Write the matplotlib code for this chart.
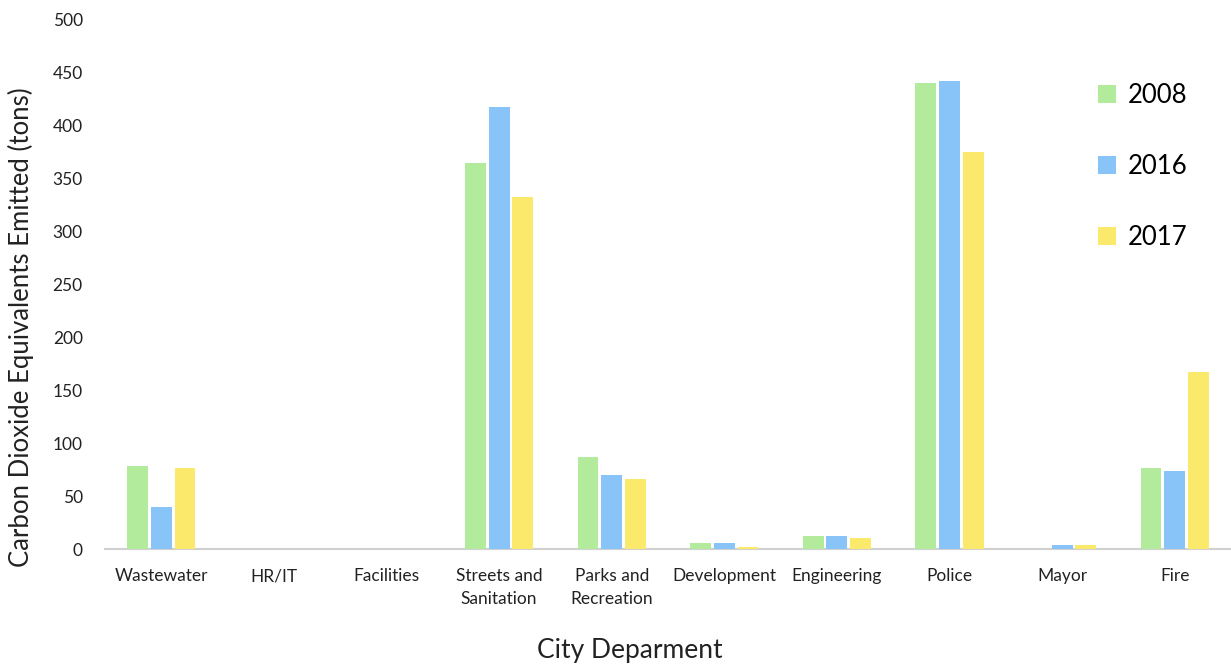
import matplotlib.pyplot as plt
import numpy as np

plt.rcParams['font.family'] = ['Lato', 'DejaVu Sans']

departments = ["Wastewater", "HR/IT", "Facilities", "Streets and\nSanitation",
               "Parks and\nRecreation", "Development", "Engineering", "Police",
               "Mayor", "Fire"]
y2008 = [78, 0, 0, 365, 87, 5.5, 12.5, 440, 0, 77]
y2016 = [40, 0, 0, 418, 70, 5.5, 12.5, 442, 3.5, 74]
y2017 = [77, 0, 0, 333, 66, 2.0, 10.5, 375, 3.5, 167]
years = ["2008", "2016", "2017"]
colors = ["#b3eb9c", "#88c4f8", "#fbe96c"]

fig = plt.figure(figsize=(12.31, 6.65), dpi=100)
ax = fig.add_axes([0.0853, 0.1744, 0.9147, 0.7956])

x = np.arange(len(departments))
w = 0.185
step = 0.21
for i, (vals, col, lbl) in enumerate(zip([y2008, y2016, y2017], colors, years)):
    ax.bar(x + (i - 1) * step, vals, width=w, color=col, label=lbl, zorder=3)

ax.set_xlim(-0.5, len(departments) - 0.5)
ax.set_ylim(0, 500)
ax.set_yticks(np.arange(0, 501, 50))
ax.set_xticks(x)
ax.set_xticklabels(departments, fontsize=12.5, color="#222222", linespacing=1.5)
ax.tick_params(axis='y', labelsize=12.5, labelcolor="#222222", length=0, pad=16)
ax.tick_params(axis='x', length=0, pad=14)
for s in ["top", "right", "left"]:
    ax.spines[s].set_visible(False)
ax.spines["bottom"].set_color("#d0d0d0")
ax.spines["bottom"].set_linewidth(1.5)

ax.set_ylabel("Carbon Dioxide Equivalents Emitted (tons)", fontsize=18.5, color="#222222")
ax.yaxis.set_label_coords(-0.063, 0.42)
fig.text(0.512, 0.003, "City Deparment", fontsize=19, color="#222222", ha='center', va='bottom')

ax.legend(loc="upper right", bbox_to_anchor=(0.982, 0.925), frameon=False, fontsize=18.5,
          handlelength=0.7, handleheight=0.7, handletextpad=0.45, labelspacing=1.8)

fig.savefig("out.png", dpi=100)
